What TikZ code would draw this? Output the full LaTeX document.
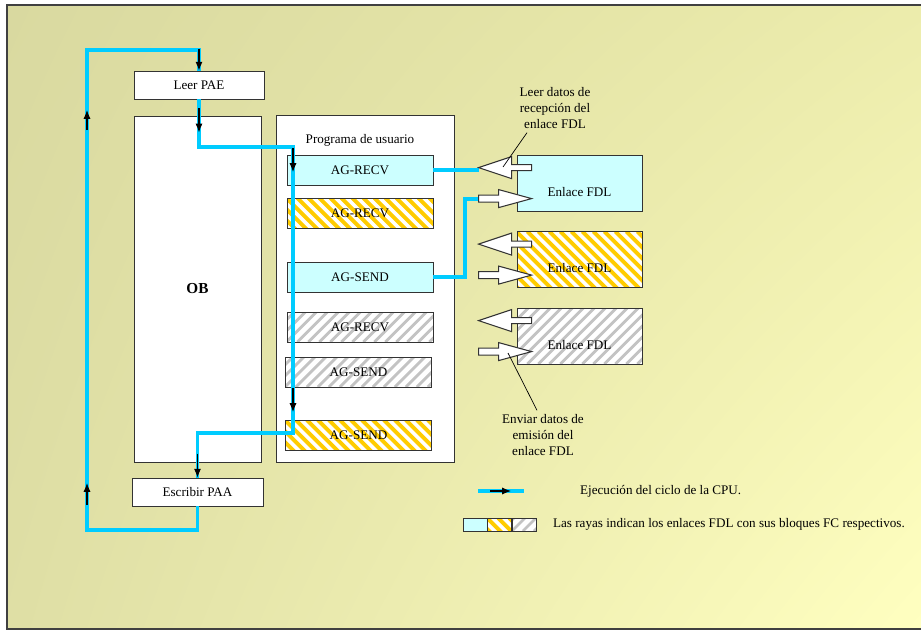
\documentclass[tikz,border=0pt]{standalone}
\usepackage{fontspec}
\setmainfont{Liberation Serif}
\usetikzlibrary{arrows.meta,positioning,calc,shadings}
\definecolor{CpuCyan}{RGB}{0,204,255}
\definecolor{LinkCyan}{RGB}{204,255,255}
\definecolor{HatchOrange}{RGB}{255,204,0}
\definecolor{HatchGray}{RGB}{195,195,195}
\definecolor{BgKhaki}{RGB}{217,217,160}
\definecolor{BgMid}{RGB}{236,236,172}
\definecolor{BgPale}{RGB}{255,255,192}

\tikzset{
  box/.style={draw=black!80,fill=white,line width=0.7pt,inner sep=0pt},
  fcblock/.style={box,minimum width=4.38cm,minimum height=0.9cm},
  fdl/.style={box,minimum width=3.75cm,minimum height=1.68cm},
  fdltext/.style={yshift=-7.5pt},
  swatch/.style={box,minimum width=0.72cm,minimum height=0.39cm},
  orangehatch/.style={path picture={\foreach \k in {0,...,22}
      \draw[HatchOrange,line width=3.3pt] ([xshift=\k*0.33cm-2cm]path picture bounding box.north west) -- ++(2cm,-2cm);}},
  grayhatch/.style={path picture={\foreach \k in {0,...,22}
      \draw[HatchGray,line width=2.4pt] ([xshift=\k*0.33cm-2cm]path picture bounding box.south west) -- ++(2cm,2cm);}},
  cpu/.style={CpuCyan,line width=3.4pt},
  flow/.style={-{Latex[length=7.5pt,width=6pt]},black,line width=0.9pt},
  bigarrow/.style={draw=black!80,fill=white,line width=0.9pt,line join=miter},
  lead/.style={black,line width=0.6pt},
}

\begin{document}
\begin{tikzpicture}[x=0.03cm,y=-0.03cm,font=\fontsize{11.2}{13.6}\selectfont]
  \useasboundingbox (0,0) rectangle (921,640);
  \fill[white] (0,0) rectangle (921,640);
  \shade[upper left=BgKhaki,lower left=BgKhaki!85!BgPale,upper right=BgMid,lower right=BgPale] (7,5) rectangle (921,629);
  \draw[black!75,line width=1pt] (930,5) -- (7,5) -- (7,629) -- (930,629);

  % cycle blocks
  \node[box,minimum width=3.9cm,minimum height=0.84cm] (pae) at (199,85) {Leer PAE};
  \node[box,minimum width=3.81cm,minimum height=10.38cm,font=\fontsize{13}{15}\selectfont\bfseries] (ob) at (197.5,289) {OB};
  \node[box,minimum width=3.93cm,minimum height=0.84cm] (paa) at (197.5,492) {Escribir PAA};

  % user program
  \node[box,minimum width=5.34cm,minimum height=10.41cm] (prog) at (365,288.5) {};
  \node (progtitle) at (360,140) {Programa de usuario};
  \node[fcblock,fill=LinkCyan] (recvA) at (360,170) {AG-RECV};
  \node[fcblock,orangehatch] (recvB) at (360,213) {AG-RECV};
  \node[fcblock,fill=LinkCyan] (sendA) at (360,277) {AG-SEND};
  \node[fcblock,grayhatch] (recvC) at (360,327) {AG-RECV};
  \node[fcblock,grayhatch] (sendC) at (358.5,372) {AG-SEND};
  \node[fcblock,orangehatch] (sendB) at (358.5,435) {AG-SEND};

  % FDL links
  \node[fdl,fill=LinkCyan,label={[fdltext]center:Enlace FDL}] (fdlA) at (579.5,183) {};
  \node[fdl,orangehatch,label={[fdltext]center:Enlace FDL}] (fdlB) at (579.5,259.5) {};
  \node[fdl,grayhatch,label={[fdltext]center:Enlace FDL}] (fdlC) at (579.5,336) {};

  % CPU cycle
  \coordinate (loopL) at (87,50);
  \coordinate (loopB) at (87,530);
  \coordinate (runT) at (293,147);
  \coordinate (runB) at (293,433);
  \foreach \f in {fdlA,fdlB,fdlC} {
    \coordinate (\f-in) at ($(\f.north west)+(-38,13)$);
    \coordinate (\f-out) at ($(\f.north west)+(-38,44)$);
  }
  \draw[cpu] (paa.south) |- (loopB) -- (loopL) -| (pae.north);
  \draw[cpu] (pae.south) |- (runT) -- (runB) -| (paa.north);
  \draw[cpu] (recvA.east) -- (recvA.east -| fdlA-in);
  \draw[cpu] (sendA.east) -- ++(32,0) |- (fdlA-out);

  \draw[flow] ([yshift=0.66cm]pae.north) -- (pae.north);
  \draw[flow] ([yshift=-0.27cm]pae.south) -- ++(0,24);
  \draw[flow] ($(loopL)+(0,80)$) -- ++(0,-20);
  \draw[flow] ($(loopB)+(0,-25)$) -- ++(0,-22);
  \draw[flow] ($(runT)+(0,1)$) -- ++(0,24);
  \draw[flow] ($(runB)+(0,-45)$) -- ++(0,24);
  \draw[flow] ([yshift=0.72cm]paa.north) -- (paa.north);

  % data arrows
  \foreach \f in {fdlA,fdlB,fdlC} {
    \draw[bigarrow] (\f-in) -- ++(33,-11) -- ++(0,8) -- ++(20,0) -- ++(0,6) -- ++(-20,0) -- ++(0,8) -- cycle;
    \draw[bigarrow] ($(\f-out)+(0,-3.5)$) -- ++(20,0) -- ++(0,-5.5) -- ++(33,9) -- ++(-33,9) -- ++(0,-5.5) -- ++(-20,0) -- cycle;
  }

  % notes
  \node[align=center] (rxnote) at (555,108) {Leer datos de\\recepción del\\enlace FDL};
  \coordinate (rxpt) at (503,167);
  \draw[lead] ([xshift=-0.84cm]rxnote.south) -- (rxpt);
  \node[align=center] (txnote) at (543,435) {Enviar datos de\\emisión del\\enlace FDL};
  \coordinate (txpt) at (508,353);
  \draw[lead] ([xshift=-0.18cm]txnote.north) -- (txpt);

  % legend
  \coordinate (cpuL) at (478,491);
  \coordinate (cpuR) at (524,491);
  \draw[cpu] (cpuL) -- (cpuR);
  \draw[flow] ($(cpuL)+(12,0)$) -- ++(21,0);
  \node[anchor=west] (cpunote) at (576,491) {Ejecución del ciclo de la CPU.};
  \node[swatch,fill=LinkCyan] (keyA) at (475,524.5) {};
  \node[swatch,orangehatch,right=0pt of keyA] (keyB) {};
  \node[swatch,grayhatch,right=0pt of keyB] (keyC) {};
  \node[anchor=west] (keynote) at (549,524.5) {Las rayas indican los enlaces FDL con sus bloques FC respectivos.};
\end{tikzpicture}
\end{document}
